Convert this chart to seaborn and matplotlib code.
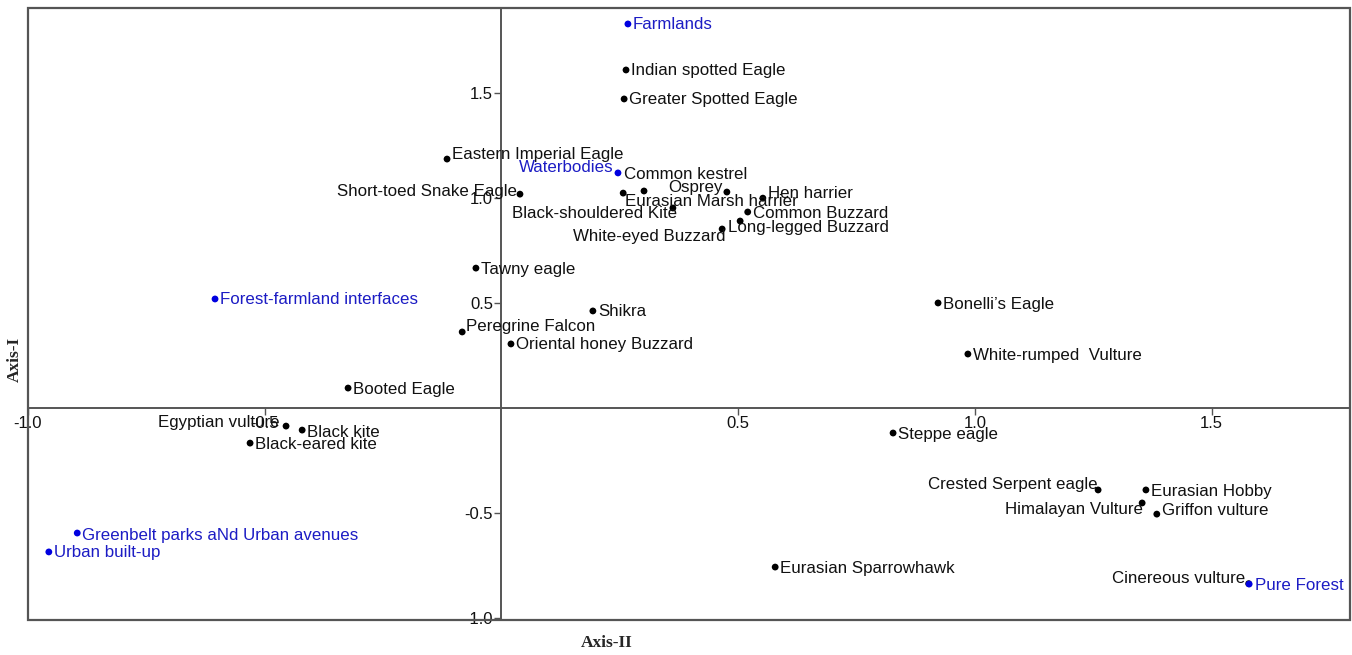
import matplotlib
matplotlib.use('Agg')
import pandas as pd
import matplotlib.pyplot as plt
import seaborn as sns
from matplotlib.patches import Rectangle

# ================= data =================
species = [
    'Indian spotted Eagle', 'Greater Spotted Eagle', 'Eastern Imperial Eagle',
    'Common kestrel', 'Eurasian Marsh harrier', 'Short-toed Snake Eagle',
    'Osprey', 'Hen harrier', 'Common Buzzard', 'Black-shouldered Kite',
    'Long-legged Buzzard', 'White-eyed Buzzard', 'Tawny eagle', 'Shikra',
    'Peregrine Falcon', 'Oriental honey Buzzard', 'Booted Eagle',
    'Bonelli\u2019s Eagle', 'White-rumped  Vulture', 'Egyptian vulture',
    'Black kite', 'Black-eared kite', 'Steppe eagle', 'Crested Serpent eagle',
    'Eurasian Hobby', 'Himalayan Vulture', 'Griffon vulture',
    'Eurasian Sparrowhawk', 'Cinereous vulture',
]
species_x = [0.263, 0.259, -0.115, 0.301, 0.257, 0.039, 0.476, 0.552, 0.520,
             0.362, 0.504, 0.466, -0.054, 0.193, -0.083, 0.020, -0.324, 0.922,
             0.985, -0.455, -0.421, -0.531, 0.827, 1.260, 1.361, 1.353, 1.384,
             0.578, 1.578]
species_y = [1.609, 1.471, 1.185, 1.033, 1.023, 1.018, 1.028, 0.999, 0.933,
             0.952, 0.890, 0.852, 0.666, 0.462, 0.362, 0.305, 0.095, 0.500,
             0.257, -0.086, -0.105, -0.167, -0.119, -0.390, -0.390, -0.452,
             -0.505, -0.757, -0.836]

habitats = ['Farmlands', 'Waterbodies', 'Forest-farmland interfaces',
            'Pure Forest', 'Greenbelt parks aNd Urban avenues', 'Urban built-up']
habitat_x = [0.267, 0.246, -0.605, 1.579, -0.896, -0.956]
habitat_y = [1.828, 1.119, 0.519, -0.838, -0.595, -0.685]

# label offsets in pixels (dx, dy downwards, alignment)
label_pos = {
    'Eastern Imperial Eagle': (5, -5, 'left'),
    'Waterbodies': (-4, -5, 'right'),
    'Common kestrel': (-20, -16, 'left'),
    'Eurasian Marsh harrier': (2, 8, 'left'),
    'Short-toed Snake Eagle': (-3, -3, 'right'),
    'Osprey': (-4, -5, 'right'),
    'Hen harrier': (5, -5, 'left'),
    'Black-shouldered Kite': (4, 5, 'right'),
    'Long-legged Buzzard': (-12, 6, 'left'),
    'White-eyed Buzzard': (3, 7, 'right'),
    'Peregrine Falcon': (4, -5, 'left'),
    'Egyptian vulture': (-6, -4, 'right'),
    'Black kite': (5, 2, 'left'),
    'Crested Serpent eagle': (0, -5, 'right'),
    'Eurasian Hobby': (5, 2, 'left'),
    'Himalayan Vulture': (1, 7, 'right'),
    'Griffon vulture': (5, -4, 'left'),
    'Cinereous vulture': (-3, -5, 'right'),
    'Pure Forest': (6, 1, 'left'),
    'Greenbelt parks aNd Urban avenues': (5, 2, 'left'),
    'Bonelli\u2019s Eagle': (5, 2, 'left'),
}

sns.set_theme(style='white')
plt.rcParams['font.family'] = ['Liberation Sans', 'DejaVu Sans']

fig = plt.figure(figsize=(13.52, 6.55), dpi=100)
ax = fig.add_axes([28 / 1352, 35 / 655, 1322 / 1352, 612 / 655])

sp = pd.DataFrame({'name': species, 'x': species_x, 'y': species_y})
hb = pd.DataFrame({'name': habitats, 'x': habitat_x, 'y': habitat_y})

sns.scatterplot(data=sp, x='x', y='y', color='black', s=24, edgecolor='none',
                ax=ax, zorder=3)
sns.scatterplot(data=hb, x='x', y='y', color='#0000e0', s=24, edgecolor='none',
                ax=ax, zorder=4)

for df, col in [(sp, '#111111'), (hb, '#1c1cc4')]:
    for name, x, y in zip(df['name'], df['x'], df['y']):
        dx, dy, ha = label_pos.get(name, (5, 1, 'left'))
        ax.annotate(name, (x, y), xytext=(dx, -dy), textcoords='offset pixels',
                    ha=ha, va='center', fontsize=12.2, color=col, zorder=5)

ax.set_xlim(-1.0, 1.792)
ax.set_ylim(-1.009, 1.904)

# axes through origin + outer frame
frame_col = '#555555'
for s in ['left', 'bottom']:
    ax.spines[s].set_position(('data', 0))
for s in ax.spines.values():
    s.set_color(frame_col)
    s.set_linewidth(1.4)
ax.add_patch(Rectangle((0, 0), 1, 1, transform=ax.transAxes, fill=False,
                       edgecolor=frame_col, linewidth=1.6, clip_on=False))

ticks = [-1.0, -0.5, 0.5, 1.0, 1.5]
ax.set_xticks(ticks)
ax.set_xticklabels([f'{t:.1f}' for t in ticks])
ax.set_yticks(ticks)
ax.set_yticklabels([f'{t:.1f}' for t in ticks])
ax.tick_params(axis='both', direction='out', length=5, width=1,
               color=frame_col, labelcolor='#111111', labelsize=12, pad=1,
               left=True, bottom=True)
ax.set_xlabel('')
ax.set_ylabel('')

fig.text(15 / 1352, 1 - 359 / 655, 'Axis-I', rotation=90, ha='center',
         va='center', fontsize=12.5, fontweight='bold', family='Liberation Serif')
fig.text(607 / 1352, 1 - 643 / 655, 'Axis-II', ha='center', va='center',
         fontsize=12.5, fontweight='bold', family='Liberation Serif')

plt.savefig('out.png', dpi=100)
